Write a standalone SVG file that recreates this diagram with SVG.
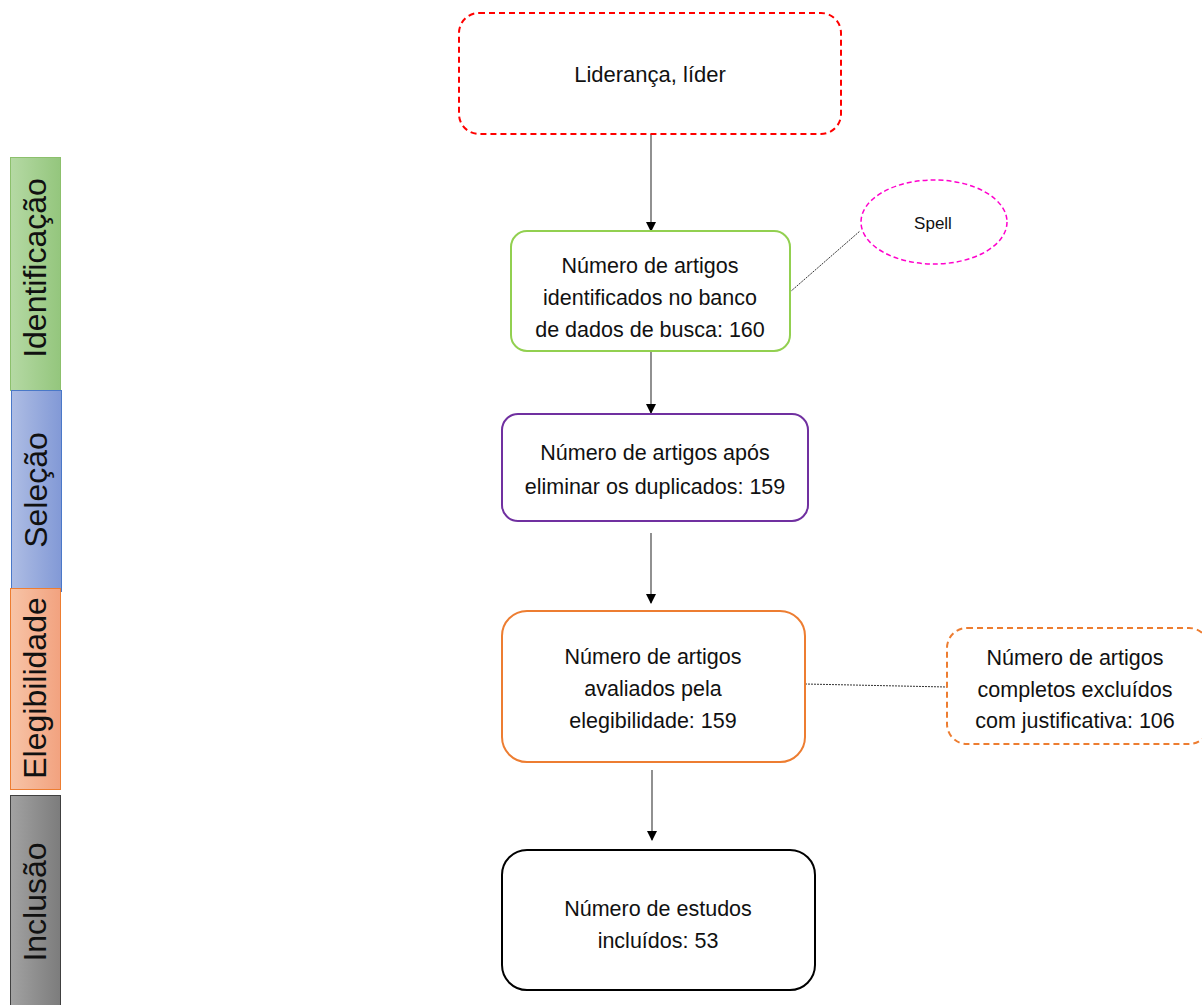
<svg xmlns="http://www.w3.org/2000/svg" width="1202" height="1005" viewBox="0 0 1202 1005">
<style>
text{font-family:"Liberation Sans",Arial,sans-serif;fill:#111;text-anchor:middle}
.t{font-size:21.5px}
.side{font-size:32px}
.box{fill:#fff;stroke-width:2}
.conn{stroke:#555;stroke-width:1.3;fill:none}
.dot{stroke:#333;stroke-width:1;stroke-dasharray:2 1;fill:none}
</style>
<defs>
<marker id="ah" markerWidth="10" markerHeight="10" refX="9" refY="5" orient="auto" markerUnits="userSpaceOnUse">
<path d="M0,0 L10,5 L0,10 Z" fill="#000"/>
</marker>
<linearGradient id="gG" x1="0" x2="1"><stop offset="0" stop-color="#b5d9a4"/><stop offset="1" stop-color="#94c67d"/></linearGradient>
<linearGradient id="gB" x1="0" x2="1"><stop offset="0" stop-color="#aebde4"/><stop offset="1" stop-color="#8299d6"/></linearGradient>
<linearGradient id="gO" x1="0" x2="1"><stop offset="0" stop-color="#f7c4a7"/><stop offset="1" stop-color="#f2a27f"/></linearGradient>
<linearGradient id="gK" x1="0" x2="1"><stop offset="0" stop-color="#a2a2a2"/><stop offset="1" stop-color="#7c7c7c"/></linearGradient>
</defs>

<g id="side-identificacao">
<rect x="10.5" y="157.5" width="50" height="233" fill="url(#gG)" stroke="#8cc06c"/>
<text class="side" transform="translate(46,268) rotate(-90)">Identificação</text>
</g>
<g id="side-selecao">
<rect x="11.5" y="390.5" width="50" height="201" fill="url(#gB)" stroke="#4a78c8"/>
<text class="side" transform="translate(47,490) rotate(-90)">Seleção</text>
</g>
<g id="side-elegibilidade">
<rect x="10.5" y="588.5" width="50" height="201" fill="url(#gO)" stroke="#ed7d31"/>
<text class="side" transform="translate(46,688) rotate(-90)">Elegibilidade</text>
</g>
<g id="side-inclusao">
<rect x="10.5" y="795.5" width="50" height="212" fill="url(#gK)" stroke="#404040"/>
<text class="side" transform="translate(46,902) rotate(-90)">Inclusão</text>
</g>

<g id="connectors">
<line class="conn" x1="651" y1="134" x2="651" y2="231" marker-end="url(#ah)"/>
<line class="conn" x1="651" y1="351" x2="651" y2="413" marker-end="url(#ah)"/>
<line class="conn" x1="651" y1="533" x2="651" y2="603" marker-end="url(#ah)"/>
<line class="conn" x1="652" y1="770" x2="652" y2="840" marker-end="url(#ah)"/>
<line class="dot" x1="790" y1="292" x2="860" y2="231"/>
<line class="dot" x1="805" y1="684" x2="947" y2="687"/>
</g>

<g id="node-lideranca">
<rect class="box" x="459" y="13" width="382" height="121" rx="20" stroke="#ff0000" stroke-dasharray="6 4"/>
<text x="650" y="82" style="font-size:22px">Liderança, líder</text>
</g>
<g id="node-identificados">
<rect class="box" x="511" y="231" width="279" height="120" rx="16" stroke="#92d050"/>
<text class="t" x="650" y="273">Número de artigos</text>
<text class="t" x="650" y="305">identificados no banco</text>
<text class="t" x="650" y="337">de dados de busca: 160</text>
</g>
<g id="node-spell">
<ellipse cx="934" cy="222" rx="73" ry="42" fill="#fff" stroke="#ff00cc" stroke-width="1.5" stroke-dasharray="5 3"/>
<text x="933" y="229" style="font-size:17px">Spell</text>
</g>
<g id="node-duplicados">
<rect class="box" x="502" y="414" width="306" height="107" rx="16" stroke="#7030a0"/>
<text class="t" x="655" y="460">Número de artigos após</text>
<text class="t" x="655" y="494">eliminar os duplicados: 159</text>
</g>
<g id="node-elegibilidade">
<rect class="box" x="502" y="611" width="303" height="151" rx="25" stroke="#ed7d31"/>
<text class="t" x="653" y="664">Número de artigos</text>
<text class="t" x="653" y="696">avaliados pela</text>
<text class="t" x="653" y="728">elegibilidade: 159</text>
</g>
<g id="node-excluidos">
<rect class="box" x="947" y="628" width="262" height="116" rx="20" stroke="#ed7d31" stroke-width="1.5" stroke-dasharray="6 4"/>
<text class="t" x="1075" y="665">Número de artigos</text>
<text class="t" x="1075" y="697">completos excluídos</text>
<text class="t" x="1075" y="728">com justificativa: 106</text>
</g>
<g id="node-incluidos">
<rect class="box" x="502" y="850" width="313" height="140" rx="25" stroke="#000"/>
<text class="t" x="658" y="916">Número de estudos</text>
<text class="t" x="658" y="948">incluídos: 53</text>
</g>
</svg>
